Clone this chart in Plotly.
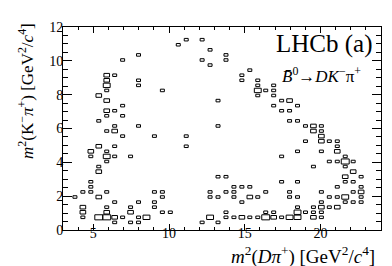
import numpy as np
import plotly.graph_objects as go

# Dalitz-plot entries: bin-centre values and entries per bin
m2_Dpi = [
    6.41, 7.46, 7.99, 12.19, 13.24,
    4.31, 5.36, 5.89, 6.41, 6.94, 7.99, 8.51, 12.71, 13.76, 14.29, 14.81, 15.34, 15.86, 16.39, 16.91, 17.44, 17.96, 18.49, 19.54, 20.06,
    4.31, 5.89, 7.46, 9.56, 10.09, 13.76, 16.39, 16.91, 18.49, 19.01, 19.54, 20.06,
    4.31, 5.89, 7.46, 9.04, 18.49, 19.54, 20.06, 20.59, 21.11,
    6.41, 7.99, 9.04, 14.81, 20.06, 21.64, 22.16, 22.69,
    3.79, 5.36, 9.56, 12.71, 13.24, 14.29, 15.34, 15.86, 17.96, 18.49, 20.59, 21.11, 21.64, 22.69,
    4.31, 4.84, 5.89, 9.04, 9.56, 12.71, 13.76, 14.29, 16.39, 17.96, 20.06, 22.16, 22.69,
    4.84, 14.29, 14.81, 15.34, 21.11, 22.69,
    4.84, 17.44, 18.49, 21.64, 22.16,
    13.24, 13.76, 21.64, 22.69,
    5.36, 22.16,
    5.36, 19.54, 21.64,
    5.89, 20.59, 21.11, 21.64, 22.16,
    4.84, 5.89, 6.41, 7.46, 17.44, 21.64,
    4.84, 5.89, 18.49, 20.06, 21.11,
    5.36, 6.41, 11.14, 21.11,
    19.01, 20.06, 20.59, 21.11,
    6.94, 9.04, 11.14, 20.06,
    5.89, 6.41, 19.54, 20.06,
    6.41, 7.99, 13.24, 19.01, 19.54, 20.06,
    5.36, 17.96, 18.49,
    5.89, 6.94,
    5.89, 6.41, 17.44, 17.96,
    6.94, 16.91, 18.49,
    5.89, 13.24, 17.44, 17.96,
    5.36, 15.86, 16.91,
    5.89, 9.56, 15.86, 16.39, 16.91,
    5.89, 7.99, 15.86, 16.91,
    5.89, 7.99, 14.81, 15.86,
    5.89, 6.41, 14.81,
    15.34,
    12.71,
    6.94, 12.19, 13.76,
    7.99, 13.76,
    12.71,
    10.61,
    11.14, 12.19,
]
m2_Kpi = (
    [0.45] * 5 + [0.75] * 20 + [1.05] * 12 + [1.35] * 9 + [1.65] * 8 + [1.95] * 14
    + [2.25] * 13 + [2.55] * 6 + [2.85] * 5 + [3.15] * 4 + [3.45] * 2 + [3.75] * 3
    + [4.05] * 5 + [4.35] * 6 + [4.65] * 5 + [4.95] * 4 + [5.25] * 4 + [5.55] * 4
    + [5.85] * 4 + [6.15] * 6 + [6.45] * 3 + [6.75] * 2 + [7.05] * 4 + [7.35] * 3
    + [7.65] * 4 + [7.95] * 3 + [8.25] * 5 + [8.55] * 4 + [8.85] * 4 + [9.15] * 3
    + [9.45] * 1 + [9.75] * 1 + [10.05] * 3 + [10.35] * 2 + [10.65] * 1 + [10.95] * 1
    + [11.25] * 2
)
counts = [
    1, 1, 1, 1, 1,
    1, 4, 4, 2, 1, 1, 3, 3, 1, 1, 2, 1, 1, 4, 2, 1, 3, 3, 2, 1,
    2, 2, 2, 1, 1, 1, 1, 1, 3, 1, 1, 1,
    2, 1, 1, 1, 1, 1, 2, 1, 2,
    1, 1, 1, 1, 1, 1, 1, 1,
    1, 2, 1, 1, 1, 1, 2, 1, 1, 1, 1, 1, 3, 1,
    1, 1, 1, 1, 1, 1, 1, 1, 1, 1, 1, 1, 2,
    1, 1, 1, 1, 1, 1,
    1, 1, 1, 1, 1,
    1, 1, 2, 1,
    2, 2,
    1, 1, 1,
    1, 1, 1, 4, 1,
    1, 3, 1, 1, 1, 1,
    2, 1, 1, 1, 2,
    2, 1, 1, 1,
    1, 2, 1, 1,
    1, 1, 1, 2,
    1, 2, 2, 1,
    1, 1, 1, 1, 2, 1,
    1, 1, 1,
    1, 1,
    2, 1, 1, 1,
    1, 1, 1,
    2, 1, 1, 2,
    2, 1, 1,
    1, 1, 3, 1, 1,
    3, 1, 1, 1,
    2, 1, 1, 1,
    2, 1, 1,
    1,
    1,
    1, 1, 1,
    1, 1,
    1,
    1,
    1, 1,
]

x_tick_vals = [5, 10, 15, 20]
y_tick_vals = [0, 2, 4, 6, 8, 10, 12]

XMIN, XMAX, NX = 3.0, 24.0, 40
YMIN, YMAX, NY = 0.0, 12.0, 40

H, xe, ye = np.histogram2d(m2_Dpi, m2_Kpi, bins=[NX, NY],
                           range=[[XMIN, XMAX], [YMIN, YMAX]], weights=counts)
hmax = H.max()
bx, by = [], []
for i in range(NX):
    for j in range(NY):
        c = H[i, j]
        if c <= 0:
            continue
        r = np.sqrt(c / hmax)
        xc = 0.5 * (xe[i] + xe[i + 1])
        yc = 0.5 * (ye[j] + ye[j + 1])
        hw = 0.5 * (xe[i + 1] - xe[i]) * r
        hh = 0.5 * (ye[j + 1] - ye[j]) * r
        bx += [xc - hw, xc + hw, xc + hw, xc - hw, xc - hw, None]
        by += [yc - hh, yc - hh, yc + hh, yc + hh, yc - hh, None]

fig = go.Figure()
fig.add_trace(go.Scatter(x=bx, y=by, mode="lines",
                         line=dict(color="black", width=1),
                         hoverinfo="skip", showlegend=False))

FONT = "Liberation Serif"
axis_common = dict(showline=True, linecolor="black", linewidth=1, mirror="allticks",
                   ticks="inside", tickcolor="black", showgrid=False, zeroline=False,
                   tickfont=dict(family=FONT, size=14, color="black"))
fig.update_xaxes(range=[XMIN, XMAX], tickvals=x_tick_vals, ticklen=6,
                 ticklabelstandoff=-10,
                 minor=dict(dtick=1, ticklen=3, ticks="inside", tickcolor="black"),
                 **axis_common)
fig.update_yaxes(range=[YMIN, YMAX], tickvals=y_tick_vals, ticklen=9,
                 ticklabelstandoff=-4,
                 minor=dict(dtick=0.5, ticklen=5, ticks="inside", tickcolor="black"),
                 **axis_common)

fig.add_annotation(xref="paper", yref="paper", x=1.0, xshift=-4, y=-0.125, xanchor="right", yanchor="middle",
                   text="<i>m</i><sup>2</sup>(<i>Dπ</i><sup>+</sup>) [GeV<sup>2</sup>/<i>c</i><sup>4</sup>]",
                   showarrow=False, font=dict(family=FONT, size=19, color="black"))
fig.add_annotation(xref="paper", yref="paper", x=0, xshift=-37, y=1.03, xanchor="center", yanchor="top",
                   textangle=-90,
                   text="<i>m</i><sup>2</sup>(K<sup>−</sup><i>π</i><sup>+</sup>) [GeV<sup>2</sup>/<i>c</i><sup>4</sup>]",
                   showarrow=False, font=dict(family=FONT, size=17, color="black"))
fig.add_annotation(xref="paper", yref="paper", x=0.99, xshift=-3, y=0.918, xanchor="right", yanchor="middle",
                   text="LHCb (a)", showarrow=False,
                   font=dict(family=FONT, size=25, color="black"))
fig.add_annotation(xref="paper", yref="paper", x=0.956, xshift=-4, y=0.764, xanchor="right", yanchor="middle",
                   text="<i>B\u0304</i><sup>0</sup>→<i>DK</i><sup>−</sup>π<sup>+</sup>", showarrow=False,
                   font=dict(family=FONT, size=17, color="black"))

fig.update_layout(width=392, height=266, margin=dict(l=55, r=19, t=14, b=44),
                  plot_bgcolor="white", paper_bgcolor="white")
fig.write_html("out.html")
